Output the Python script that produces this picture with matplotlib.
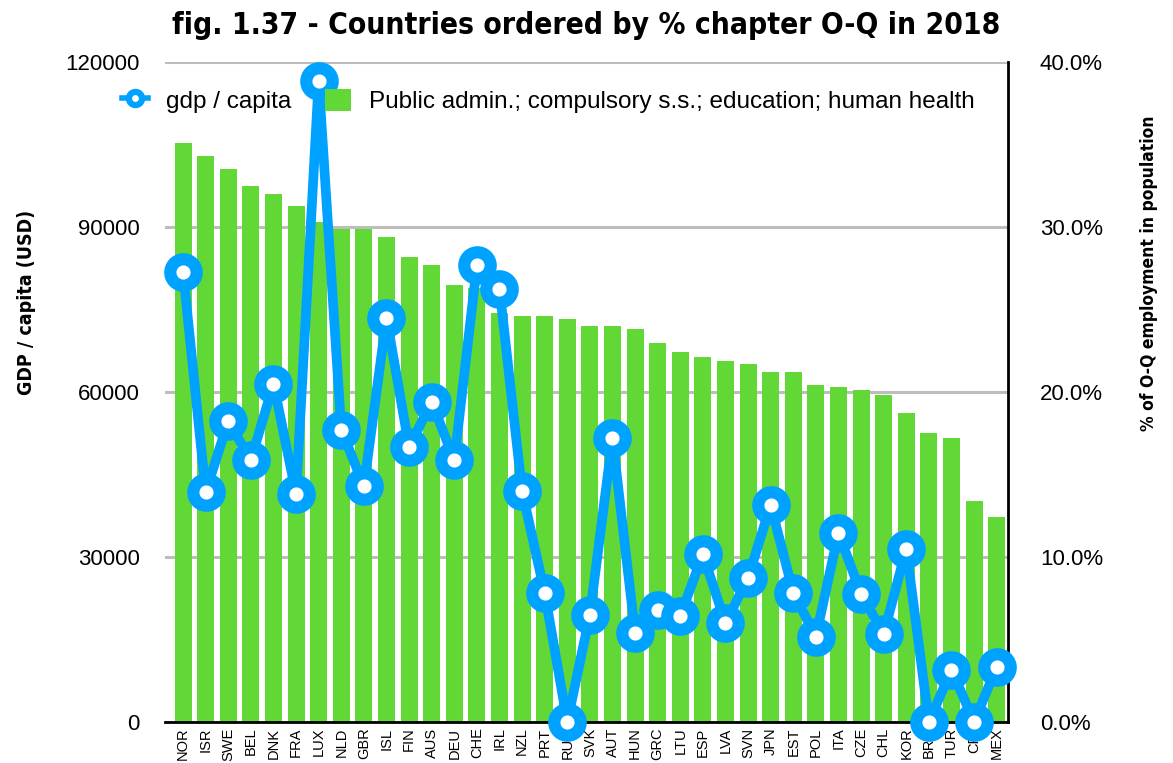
import matplotlib
matplotlib.use("Agg")
import matplotlib.pyplot as plt
from matplotlib.lines import Line2D
from matplotlib.patches import Patch
from matplotlib.ticker import PercentFormatter, FixedLocator

countries = ["NOR", "ISR", "SWE", "BEL", "DNK", "FRA", "LUX", "NLD", "GBR", "ISL",
             "FIN", "AUS", "DEU", "CHE", "IRL", "NZL", "PRT", "RUS", "SVK", "AUT",
             "HUN", "GRC", "LTU", "ESP", "LVA", "SVN", "JPN", "EST", "POL", "ITA",
             "CZE", "CHL", "KOR", "BRA", "TUR", "CRI", "MEX"]

oq_pct = [35.1, 34.3, 33.5, 32.5, 32.0, 31.3, 30.3, 29.9, 29.9, 29.4,
          28.2, 27.7, 26.5, 26.3, 24.8, 24.6, 24.6, 24.4, 24.0, 24.0,
          23.8, 23.0, 22.4, 22.1, 21.9, 21.7, 21.2, 21.2, 20.4, 20.3,
          20.1, 19.8, 18.7, 17.5, 17.2, 13.4, 12.4]

gdp = [81800, 41800, 54700, 47600, 61500, 41500, 116600, 53100, 42900, 73500,
       50000, 58200, 47600, 83000, 78800, 42000, 23500, 0, 19500, 51600,
       16200, 20400, 19300, 30500, 18000, 26200, 39500, 23500, 15500, 34400,
       23300, 16000, 31500, 0, 9500, 0, 10000]

gdp_ticks = [0, 30000, 60000, 90000, 120000]
pct_ticks = [0, 10, 20, 30, 40]

title = "fig. 1.37 - Countries ordered by % chapter O-Q in 2018"
line_label = "gdp / capita"
bar_label = "Public admin.; compulsory s.s.; education; human health"
left_label = "GDP / capita (USD)"
right_label = "% of O-Q employment in population"

BLUE = "#00A2FF"
GREEN = "#61D836"
REG = ["Liberation Sans", "DejaVu Sans"]

plt.rcParams["font.family"] = REG

fig = plt.figure(figsize=(11.73, 7.63), dpi=100)
ax = fig.add_axes([165 / 1173, 41 / 763, 843 / 1173, 660 / 763])
ax2 = ax.twinx()

x = list(range(len(countries)))

# bars on primary axis (percent), ticks on the right
ax.bar(x, oq_pct, width=0.75, color=GREEN, zorder=2)
ax.set_ylim(0, 40)
ax.set_xlim(-0.8, 36.5)
ax.yaxis.set_major_locator(FixedLocator(pct_ticks))
ax.yaxis.set_major_formatter(PercentFormatter(decimals=1))
ax.yaxis.tick_right()
ax.yaxis.set_label_position("right")
ax.grid(axis="y", color="#BDBDBD", linewidth=2.2, zorder=0)
ax.set_axisbelow(True)
ax.tick_params(axis="y", length=0, pad=23, labelsize=16)
ax.set_xticks(x)
ax.set_xticklabels(countries, rotation=90, fontsize=10.5)
ax.tick_params(axis="x", length=0, pad=4)
for s in ["left", "top"]:
    ax.spines[s].set_visible(False)
for s in ["bottom", "right"]:
    ax.spines[s].set_linewidth(2)
    ax.spines[s].set_color("black")
ax.set_ylabel(right_label, fontsize=12.5, fontweight="bold",
              family="DejaVu Sans", fontstretch="condensed")
ax.yaxis.set_label_coords(1.157, 0.68)

# line on twin axis (GDP), ticks on the left
ax2.plot(x, gdp, color=BLUE, linewidth=7, marker="o", markersize=19,
         markerfacecolor="white", markeredgecolor=BLUE, markeredgewidth=8.8,
         clip_on=False, zorder=5)
ax2.set_ylim(0, 120000)
ax2.yaxis.set_major_locator(FixedLocator(gdp_ticks))
ax2.yaxis.tick_left()
ax2.yaxis.set_label_position("left")
ax2.tick_params(axis="y", length=0, pad=18, labelsize=16)
for s in ax2.spines.values():
    s.set_visible(False)
ax2.set_ylabel(left_label, fontsize=14, fontweight="bold",
               family="DejaVu Sans", fontstretch="condensed")
ax2.yaxis.set_label_coords(-0.153, 0.635)

fig.suptitle(title, x=586.5 / 1173, y=1 - 11 / 763, va="top",
             fontsize=21.5, fontweight="bold",
             family="DejaVu Sans", fontstretch="condensed")

handles = [
    Line2D([0], [0], color=BLUE, linewidth=4, marker="o", markersize=9.5,
           markerfacecolor="white", markeredgecolor=BLUE, markeredgewidth=4.5),
    Patch(facecolor=GREEN, edgecolor="none"),
]
fig.legend(handles, [line_label, bar_label], loc="center left",
           bbox_to_anchor=(122 / 1173, 1 - 101 / 763), ncol=2, frameon=False,
           fontsize=17.5, handlelength=1.05, handleheight=1.05, handletextpad=0.75,
           columnspacing=1.4, borderaxespad=0, borderpad=0)

fig.savefig("out.png", dpi=100)
